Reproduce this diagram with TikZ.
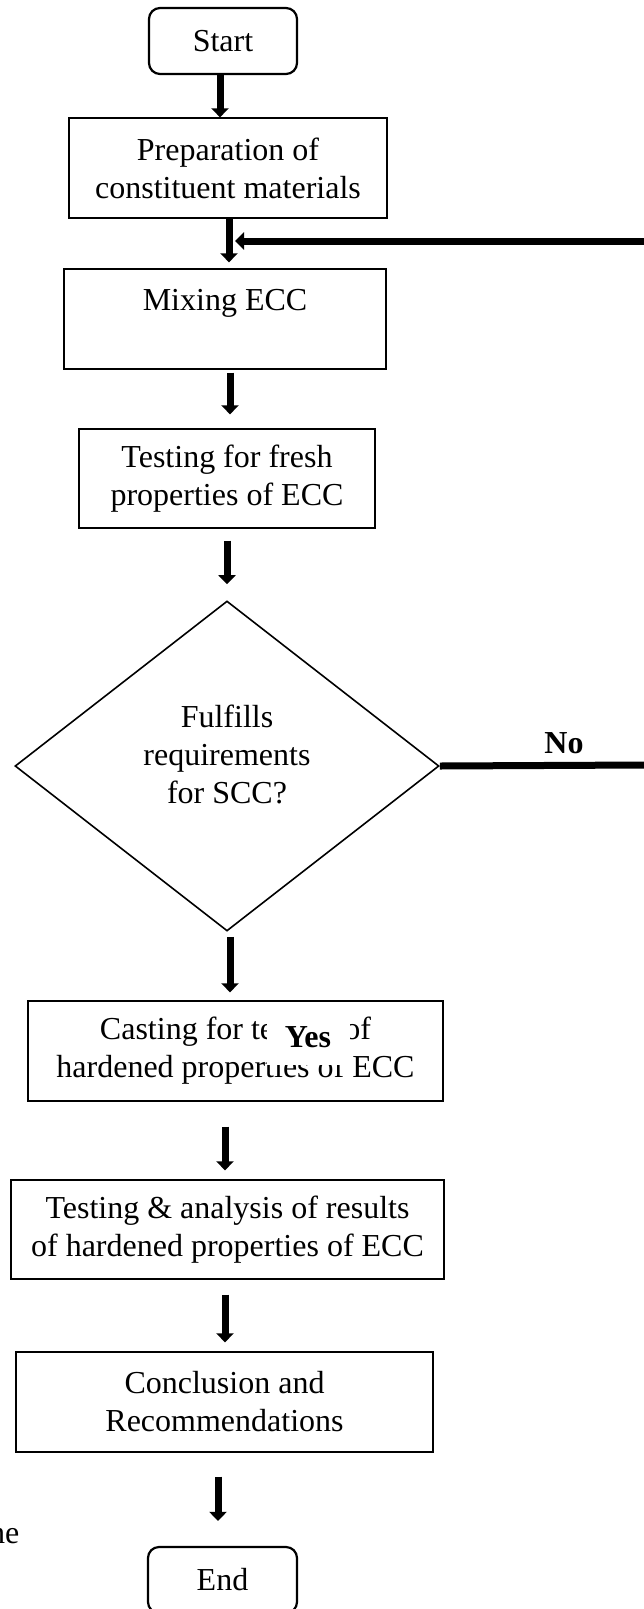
\documentclass[tikz,border=0pt]{standalone}
\usepackage{fontspec}
\setmainfont{Liberation Serif}
\usetikzlibrary{arrows.meta,shapes.geometric,calc}
\begin{document}
\begin{tikzpicture}[x=1pt,y=-1pt,
  every node/.style={font=\fontsize{32}{38}\selectfont, inner sep=0pt, align=center},
  procbox/.style={draw, line width=1.3pt, rectangle},
  termbox/.style={draw, line width=2.2pt, rounded corners=11pt},
  decbox/.style={draw, line width=1.6pt, diamond},
  arr/.style={line width=7pt, -{Triangle[width=17pt,length=9pt]}},
  fline/.style={line width=7pt},
  lbl/.style={font=\fontsize{32}{38}\selectfont\bfseries}
]
\useasboundingbox (0,0) rectangle (644,1609);
\clip (0,0) rectangle (644,1609);

% nodes
\node[termbox, minimum width=148pt, minimum height=66pt] (start) at (223,41) {Start};
\node[procbox, minimum width=318pt, minimum height=100pt] (prep) at (228,168) {Preparation of\\constituent materials};
\node[procbox, minimum width=322pt, minimum height=100pt] (mix) at (225,319) {Mixing ECC\\\mbox{}};
\node[procbox, minimum width=296pt, minimum height=99pt] (fresh) at (227,478.5) {Testing for fresh\\properties of ECC};
\node[decbox, minimum width=424pt, minimum height=330pt] (dec) at (227,766) {};
\node (dectext) at (227,754) {Fulfills\\requirements\\for SCC?};
\node[procbox, minimum width=415pt, minimum height=100pt] (cast) at (235.5,1051) {Casting for testing of\\hardened properties of ECC};
\node[lbl, fill=white, minimum width=83pt, minimum height=56pt] (yes) at (308,1037) {Yes};
\node[procbox, minimum width=433pt, minimum height=99pt] (ta) at (227.5,1229.5) {Testing \& analysis of results\\of hardened properties of ECC};
\node[procbox, minimum width=417pt, minimum height=100pt] (conc) at (224.5,1402) {Conclusion and\\Recommendations};
\node[termbox, minimum width=149pt, minimum height=66pt] (end) at (222.5,1580) {End};
\node[lbl] (no) at (564,743.5) {No};
\node[anchor=base east] (he) at (19.5,1543) {he};

% edge coordinates
\coordinate (fbR) at (644,241);
\coordinate (noR) at (644,765);

% connectors
\draw[arr] ([xshift=-3pt]start.south) -- ([xshift=-3pt]start.south |- prep.north);
\draw[arr, shorten >=6pt] ([xshift=1pt]prep.south) -- ([xshift=1pt]prep.south |- mix.north);
\draw[arr, shorten <=3pt, shorten >=14pt] ([xshift=5pt]mix.south) -- ([xshift=5pt]mix.south |- fresh.north);
\draw[arr, shorten <=12pt, shorten >=16pt] (fresh.south) -- (fresh.south |- dec.north);
\draw[arr, shorten <=5pt, shorten >=8pt] ([xshift=3pt]dec.south) -- ([xshift=3pt]dec.south |- cast.north);
\draw[arr, shorten <=25pt, shorten >=9pt] ([xshift=-10.5pt]cast.south) -- ([xshift=-10.5pt]cast.south |- ta.north);
\draw[arr, shorten <=15pt, shorten >=9pt] ([xshift=-2.5pt]ta.south) -- ([xshift=-2.5pt]ta.south |- conc.north);
\draw[arr, shorten <=24pt, shorten >=25pt] ([xshift=-6.5pt]conc.south) -- ([xshift=-6.5pt]conc.south |- end.north);
\draw[arr, shorten >=10pt] (fbR) -- (fbR -| mix.north);
\draw[fline] (dec.east) -- (noR);
\end{tikzpicture}
\end{document}
